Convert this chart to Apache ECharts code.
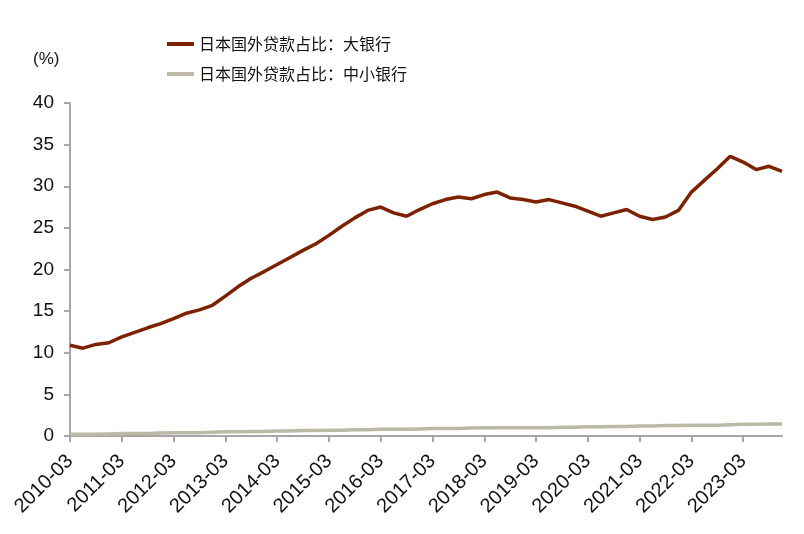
<!DOCTYPE html>
<html>
<head>
<meta charset="utf-8">
<script src="https://cdn.jsdelivr.net/npm/echarts@6/dist/echarts.min.js"></script>
<style>
html,body{margin:0;padding:0;background:#fff;}
#c{width:804px;height:534px;}
</style>
</head>
<body>
<div id="c"></div>
<script>
const categories = [
"2010-03","2010-06","2010-09","2010-12",
"2011-03","2011-06","2011-09","2011-12",
"2012-03","2012-06","2012-09","2012-12",
"2013-03","2013-06","2013-09","2013-12",
"2014-03","2014-06","2014-09","2014-12",
"2015-03","2015-06","2015-09","2015-12",
"2016-03","2016-06","2016-09","2016-12",
"2017-03","2017-06","2017-09","2017-12",
"2018-03","2018-06","2018-09","2018-12",
"2019-03","2019-06","2019-09","2019-12",
"2020-03","2020-06","2020-09","2020-12",
"2021-03","2021-06","2021-09","2021-12",
"2022-03","2022-06","2022-09","2022-12",
"2023-03","2023-06","2023-09","2023-12"
];
const largeBanks = [
10.9,10.55,11.0,11.2,
11.9,12.45,13.0,13.5,
14.1,14.75,15.15,15.7,
16.8,17.95,18.95,19.75,
20.6,21.45,22.3,23.1,
24.1,25.2,26.2,27.1,
27.5,26.8,26.4,27.2,
27.9,28.4,28.7,28.5,
29.0,29.3,28.6,28.4,
28.1,28.4,28.0,27.6,
27.0,26.4,26.8,27.2,
26.4,26.0,26.3,27.1,
29.3,30.7,32.1,33.6,
32.9,32.0,32.4,31.8
];
const smallBanks = [
0.2,0.2,0.2,0.25,
0.3,0.3,0.3,0.35,
0.4,0.4,0.4,0.45,
0.5,0.5,0.55,0.55,
0.6,0.6,0.65,0.65,
0.7,0.7,0.75,0.75,
0.8,0.8,0.8,0.85,
0.9,0.9,0.9,0.95,
1.0,1.0,1.0,1.0,
1.0,1.0,1.05,1.05,
1.1,1.1,1.15,1.15,
1.2,1.2,1.25,1.25,
1.3,1.3,1.3,1.35,
1.4,1.4,1.45,1.45
];
const yTicks = {min: 0, max: 40, interval: 5};
const seriesNames = ["日本国外贷款占比：大银行", "日本国外贷款占比：中小银行"];

const chart = echarts.init(document.getElementById('c'));
const axisColor = '#a6a6a6';
const font = 'Arial, "Liberation Sans", sans-serif';
chart.setOption({
  animation: false,
  backgroundColor: '#fff',
  grid: {left: 70, right: 22, top: 103, bottom: 98},
  legend: {
    orient: 'vertical',
    left: 162,
    top: 31,
    itemWidth: 27,
    itemHeight: 14,
    itemGap: 14,
    icon: 'path://M0,0 L27,0 L27,4 L0,4 Z',
    textStyle: {fontSize: 16, color: '#111', fontFamily: '"Noto Sans CJK SC", sans-serif'},
    data: seriesNames
  },
  graphic: [{
    type: 'text', left: 33, top: 51,
    style: {text: '(%)', fontSize: 17, fill: '#111', fontFamily: font}
  }],
  xAxis: {
    type: 'category',
    data: categories,
    boundaryGap: false,
    axisLine: {lineStyle: {color: axisColor, width: 2}},
    axisTick: {interval: 3, length: 6, lineStyle: {color: axisColor, width: 2}},
    axisLabel: {interval: 3, rotate: 45, margin: 22, fontSize: 20, color: '#111', fontFamily: font},
    splitLine: {show: false}
  },
  yAxis: {
    type: 'value',
    min: yTicks.min, max: yTicks.max, interval: yTicks.interval,
    axisLine: {show: true, lineStyle: {color: axisColor, width: 2}},
    axisTick: {show: true, length: 6, lineStyle: {color: axisColor, width: 2}},
    axisLabel: {margin: 16, fontSize: 19, color: '#111', fontFamily: font},
    splitLine: {show: false}
  },
  series: [
    {
      name: seriesNames[1], type: 'line', data: smallBanks, showSymbol: false,
      lineStyle: {color: '#bcb9a6', width: 3.5}, itemStyle: {color: '#bcb9a6'}, z: 2
    },
    {
      name: seriesNames[0], type: 'line', data: largeBanks, showSymbol: false,
      lineStyle: {color: '#7c2200', width: 3.5}, itemStyle: {color: '#7c2200'}, z: 3
    }
  ]
});
</script>
</body>
</html>
